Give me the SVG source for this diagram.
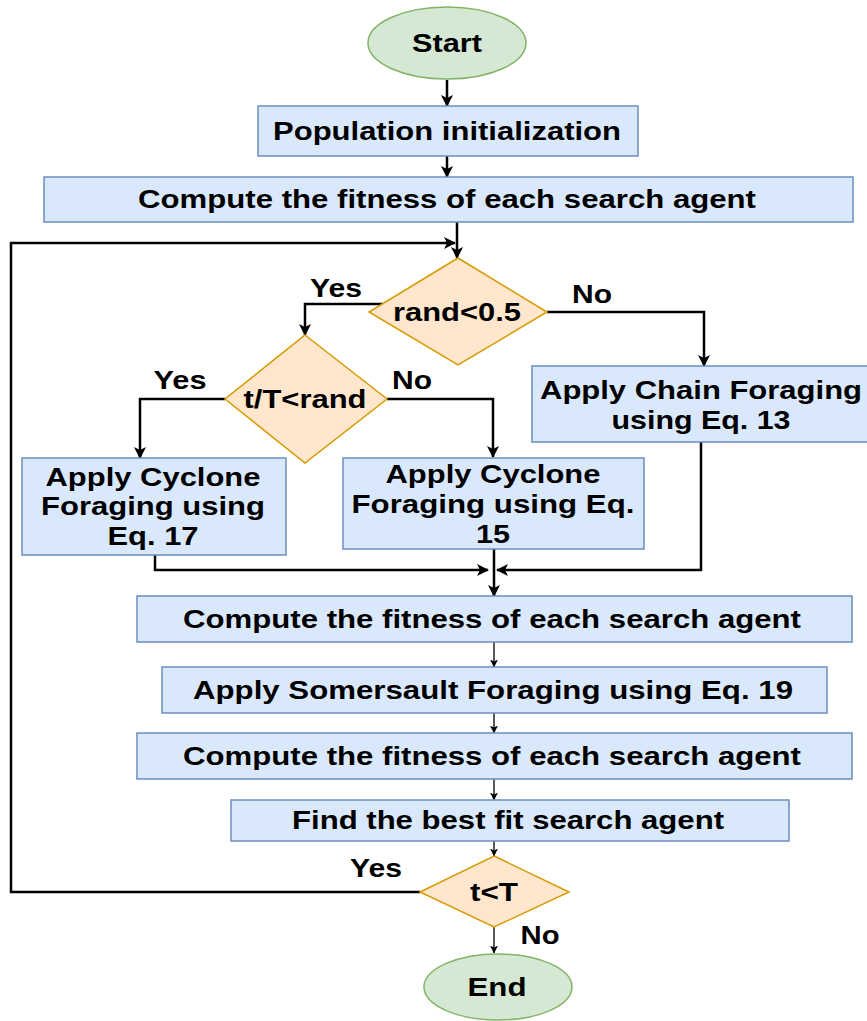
<svg xmlns="http://www.w3.org/2000/svg" width="867" height="1021" viewBox="0 0 867 1021">
<style>
.box{fill:#dae8fc;stroke:#6c8ebf;stroke-width:1.5}
.dia{fill:#ffe6cc;stroke:#d79b00;stroke-width:1.5}
.ell{fill:#d5e8d4;stroke:#82b366;stroke-width:1.5}
text{font-family:"Liberation Sans",Arial,sans-serif;font-weight:bold;font-size:25px;fill:#000;text-anchor:middle}
.c{fill:none;stroke:#000;stroke-width:2.5}
.t{fill:none;stroke:#000;stroke-width:1.3}
</style>
<defs>
<marker id="a" markerUnits="userSpaceOnUse" markerWidth="12" markerHeight="12" viewBox="0 0 12 12" refX="11" refY="6" orient="auto"><path d="M0,0 L12,6 L0,12 L3,6 Z" fill="#000"/></marker>
<marker id="s" markerUnits="userSpaceOnUse" markerWidth="8" markerHeight="8" viewBox="0 0 8 8" refX="7.5" refY="4" orient="auto"><path d="M0,0 L8,4 L0,8 L2,4 Z" fill="#000"/></marker>
</defs>
<rect width="867" height="1021" fill="#fff"/>
<g id="connectors">
<path class="c" d="M447,80 V106" marker-end="url(#a)"/>
<path class="c" d="M447,156 V177" marker-end="url(#a)"/>
<path class="c" d="M457,222 V258" marker-end="url(#a)"/>
<path class="c" d="M420,892 H11 V243 H455" marker-end="url(#a)"/>
<path class="c" d="M383,304 H305 V335" marker-end="url(#a)"/>
<path class="c" d="M547,312 H704 V366" marker-end="url(#a)"/>
<path class="c" d="M225,399 H140 V458" marker-end="url(#a)"/>
<path class="c" d="M387,399 H493 V457" marker-end="url(#a)"/>
<path class="c" d="M155,555 V570 H488" marker-end="url(#a)"/>
<path class="c" d="M701,442 V570 H497" marker-end="url(#a)"/>
<path class="c" d="M494,549 V596" marker-end="url(#a)"/>
<path class="t" d="M494,642 V667" marker-end="url(#s)"/>
<path class="t" d="M494,713 V733" marker-end="url(#s)"/>
<path class="t" d="M494,779 V800" marker-end="url(#s)"/>
<path class="t" d="M494,841 V856" marker-end="url(#s)"/>
<path class="t" d="M494,927 V953" marker-end="url(#s)"/>
<text x="336" y="297" textLength="52" lengthAdjust="spacingAndGlyphs">Yes</text>
<text x="592" y="303" textLength="40" lengthAdjust="spacingAndGlyphs">No</text>
<text x="180" y="389" textLength="53" lengthAdjust="spacingAndGlyphs">Yes</text>
<text x="412" y="389" textLength="40" lengthAdjust="spacingAndGlyphs">No</text>
<text x="376" y="877" textLength="52" lengthAdjust="spacingAndGlyphs">Yes</text>
<text x="540" y="944" textLength="39" lengthAdjust="spacingAndGlyphs">No</text>
</g>
<g id="start">
<ellipse class="ell" cx="447" cy="43" rx="79" ry="36"/>
<text x="447" y="52" textLength="70" lengthAdjust="spacingAndGlyphs">Start</text>
</g>
<g id="init">
<rect class="box" x="258" y="106" width="380" height="50"/>
<text x="447" y="140" textLength="348" lengthAdjust="spacingAndGlyphs">Population initialization</text>
</g>
<g id="fitness1">
<rect class="box" x="44" y="177" width="809" height="45"/>
<text x="447" y="208" textLength="618" lengthAdjust="spacingAndGlyphs">Compute the fitness of each search agent</text>
</g>
<g id="rand">
<polygon class="dia" points="458,258 547,312 458,365 369,312"/>
<text x="457" y="321" textLength="128" lengthAdjust="spacingAndGlyphs">rand&lt;0.5</text>
</g>
<g id="tT">
<polygon class="dia" points="305,335 387,399 305,463 225,399"/>
<text x="305" y="408" textLength="123" lengthAdjust="spacingAndGlyphs">t/T&lt;rand</text>
</g>
<g id="chain">
<rect class="box" x="532" y="366" width="340" height="76"/>
<text x="701" y="399" textLength="322" lengthAdjust="spacingAndGlyphs">Apply Chain Foraging</text>
<text x="701" y="429" textLength="179" lengthAdjust="spacingAndGlyphs">using Eq. 13</text>
</g>
<g id="cyclone17">
<rect class="box" x="22" y="458" width="264" height="97"/>
<text x="153" y="486" textLength="215" lengthAdjust="spacingAndGlyphs">Apply Cyclone</text>
<text x="153" y="515" textLength="224" lengthAdjust="spacingAndGlyphs">Foraging using</text>
<text x="153" y="545" textLength="91" lengthAdjust="spacingAndGlyphs">Eq. 17</text>
</g>
<g id="cyclone15">
<rect class="box" x="343" y="458" width="301" height="91"/>
<text x="493" y="483" textLength="215" lengthAdjust="spacingAndGlyphs">Apply Cyclone</text>
<text x="493" y="513" textLength="283" lengthAdjust="spacingAndGlyphs">Foraging using Eq.</text>
<text x="493" y="543" textLength="34" lengthAdjust="spacingAndGlyphs">15</text>
</g>
<g id="fitness2">
<rect class="box" x="137" y="596" width="715" height="46"/>
<text x="492" y="628" textLength="618" lengthAdjust="spacingAndGlyphs">Compute the fitness of each search agent</text>
</g>
<g id="somersault">
<rect class="box" x="162" y="667" width="665" height="46"/>
<text x="493" y="699" textLength="600" lengthAdjust="spacingAndGlyphs">Apply Somersault Foraging using Eq. 19</text>
</g>
<g id="fitness3">
<rect class="box" x="137" y="733" width="715" height="46"/>
<text x="492" y="765" textLength="618" lengthAdjust="spacingAndGlyphs">Compute the fitness of each search agent</text>
</g>
<g id="best">
<rect class="box" x="231" y="800" width="558" height="41"/>
<text x="508" y="829" textLength="432" lengthAdjust="spacingAndGlyphs">Find the best fit search agent</text>
</g>
<g id="tlT">
<polygon class="dia" points="494,856 569,892 494,927 420,892"/>
<text x="494" y="901" textLength="48" lengthAdjust="spacingAndGlyphs">t&lt;T</text>
</g>
<g id="end">
<ellipse class="ell" cx="498" cy="987" rx="74" ry="33"/>
<text x="497" y="996" textLength="59" lengthAdjust="spacingAndGlyphs">End</text>
</g>
</svg>
